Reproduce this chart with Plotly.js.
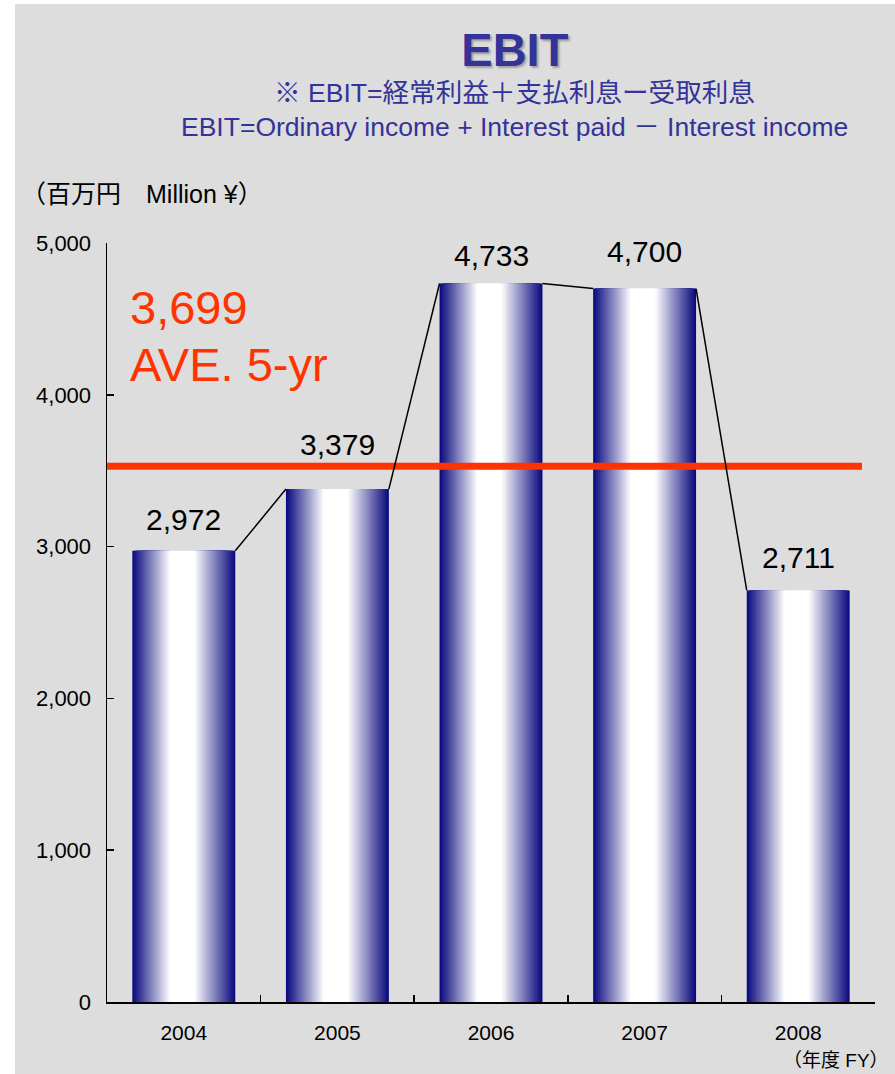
<!DOCTYPE html>
<html><head><meta charset="utf-8">
<script src="https://cdn.plot.ly/plotly-3.0.1.min.js"></script>
<style>
html,body{margin:0;padding:0;background:#fff;width:895px;height:1074px;overflow:hidden}
#chart{position:absolute;left:15px;top:4px;width:880px;height:1070px}
</style>
</head><body><div id="chart"></div>
<script>
// ---- data ----
const years = ['2004', '2005', '2006', '2007', '2008'];
const ebit = [2972, 3379, 4733, 4700, 2711];
const yTickVals = [0, 1000, 2000, 3000, 4000, 5000];
const yTickText = ['0', '1,000', '2,000', '3,000', '4,000', '5,000'];
const averageLabel = [3699];      // printed average
const averageLineLevel = [3530];  // level at which the red line is drawn in the picture
const labelGapPx = [20, 34, 17, 26, 22]; // baseline gap of value labels above bar tops (style)

const FONT = 'Liberation Sans, Arial, Noto Sans CJK JP, sans-serif';
const JFONT = 'Liberation Sans, Arial, Noto Sans CJK JP, sans-serif';
const BLUE = '#333399';
const RED = '#ff3300';
const BAR_W = 0.67;
const X_RANGE = [-0.5, years.length - 0.5];

// gradient bars: nested overlay bars from navy edge to white centre
const dark = [12, 12, 128];
const traces = [];
const N = 30;
const PEAK = 0.48; // horizontal position of the lightest band inside a bar (fraction of width)
for (let k = 0; k < N; k++) {
  const d = k / N;
  const t = Math.min(1, d / 0.75);
  const c = dark.map(v => Math.round(v + (255 - v) * t));
  const left = PEAK * d, right = 1 - (1 - PEAK) * d;
  traces.push({
    type: 'bar', x: years, y: ebit,
    width: BAR_W * (right - left), offset: -BAR_W / 2 + BAR_W * left,
    marker: {color: 'rgb(' + c.join(',') + ')', line: {width: 0}},
    hoverinfo: 'skip', showlegend: false
  });
  if (t >= 1) break;
}

// red average line (on overlay axis, drawn above the bars)
const redEnd = X_RANGE[0] + 0.983 * (X_RANGE[1] - X_RANGE[0]);
traces.push({
  type: 'scatter', mode: 'lines', xaxis: 'x2', yaxis: 'y',
  x: [X_RANGE[0], redEnd], y: [averageLineLevel[0], averageLineLevel[0]],
  line: {color: RED, width: 7}, hoverinfo: 'skip', showlegend: false, cliponaxis: false
});

// connector lines between bar tops
const lx = [], ly = [];
for (let i = 0; i < ebit.length - 1; i++) {
  lx.push(i + BAR_W / 2, i + 1 - BAR_W / 2, null);
  ly.push(ebit[i], ebit[i + 1], null);
}
traces.push({
  type: 'scatter', mode: 'lines', xaxis: 'x2', yaxis: 'y',
  x: lx, y: ly, line: {color: '#000', width: 1.5}, hoverinfo: 'skip', showlegend: false
});

const annotations = [];
years.forEach((yr, i) => {
  annotations.push({
    x: i, y: ebit[i], xref: 'x2', yref: 'y', showarrow: false,
    text: ebit[i].toLocaleString('en-US'), yanchor: 'middle', xanchor: 'center',
    yshift: labelGapPx[i] + 11, font: {family: FONT, size: 30, color: '#000'}
  });
});
annotations.push(
  {xref: 'paper', yref: 'paper', x: 0.0273, y: 0.9144, xanchor: 'left', yanchor: 'middle', showarrow: false,
   text: averageLabel[0].toLocaleString('en-US'), font: {family: FONT, size: 47, color: RED}},
  {xref: 'paper', yref: 'paper', x: 0.0273, y: 0.840, xanchor: 'left', yanchor: 'middle', showarrow: false,
   text: 'AVE. 5-yr', font: {family: FONT, size: 47, color: RED}},
  {xref: 'paper', yref: 'paper', x: 0.531, y: 1.1976, xanchor: 'center', yanchor: 'middle', showarrow: false,
   text: '※ EBIT=経常利益＋支払利息ー受取利息', font: {family: JFONT, size: 26.6, color: BLUE}},
  {xref: 'paper', yref: 'paper', x: 0.531, y: 1.1528, xanchor: 'center', yanchor: 'middle', showarrow: false,
   text: 'EBIT=Ordinary income + Interest paid － Interest income', font: {family: JFONT, size: 26.5, color: BLUE}},
  {xref: 'paper', yref: 'paper', x: -0.114, y: 1.0646, xanchor: 'left', yanchor: 'middle', showarrow: false,
   text: '（百万円　Million ¥）', font: {family: JFONT, size: 25, color: '#000'}},
  {xref: 'paper', yref: 'paper', x: 1.021, y: -0.0777, xanchor: 'right', yanchor: 'middle', showarrow: false,
   text: '（年度 FY）', font: {family: JFONT, size: 19, color: '#000'}}
);

const layout = {
  width: 880, height: 1070,
  paper_bgcolor: '#dddddd', plot_bgcolor: 'rgba(0,0,0,0)',
  margin: {l: 92, r: 20, t: 239, b: 72, autoexpand: false},
  barmode: 'overlay',
  showlegend: false,
  title: {
    text: '<b>EBIT</b>', xref: 'container', yref: 'container', x: 0.568, y: 0.957,
    xanchor: 'center', yanchor: 'middle',
    font: {family: FONT, size: 47, color: BLUE, shadow: '2px 2px 2px #a0a0a0'}
  },
  xaxis: {
    type: 'category', range: X_RANGE, tickson: 'boundaries', ticks: 'inside', ticklen: 7,
    tickcolor: '#000', tickwidth: 1.5, showline: true, linecolor: '#000', linewidth: 1.5,
    showgrid: false, zeroline: false, ticklabelstandoff: 11,
    tickfont: {family: FONT, size: 21, color: '#000'}, fixedrange: true
  },
  xaxis2: {overlaying: 'x', range: X_RANGE, visible: false, fixedrange: true},
  yaxis: {
    range: [0, 5000], tickvals: yTickVals, ticktext: yTickText, ticks: 'inside', ticklen: 7,
    tickcolor: '#000', tickwidth: 1.5, showline: true, linecolor: '#000', linewidth: 1.5,
    showgrid: false, zeroline: false, ticklabelstandoff: 10,
    tickfont: {family: FONT, size: 22, color: '#000'}, fixedrange: true
  },
  annotations: annotations
};

Plotly.newPlot('chart', traces, layout, {displayModeBar: false, staticPlot: true});
</script>
</body></html>
